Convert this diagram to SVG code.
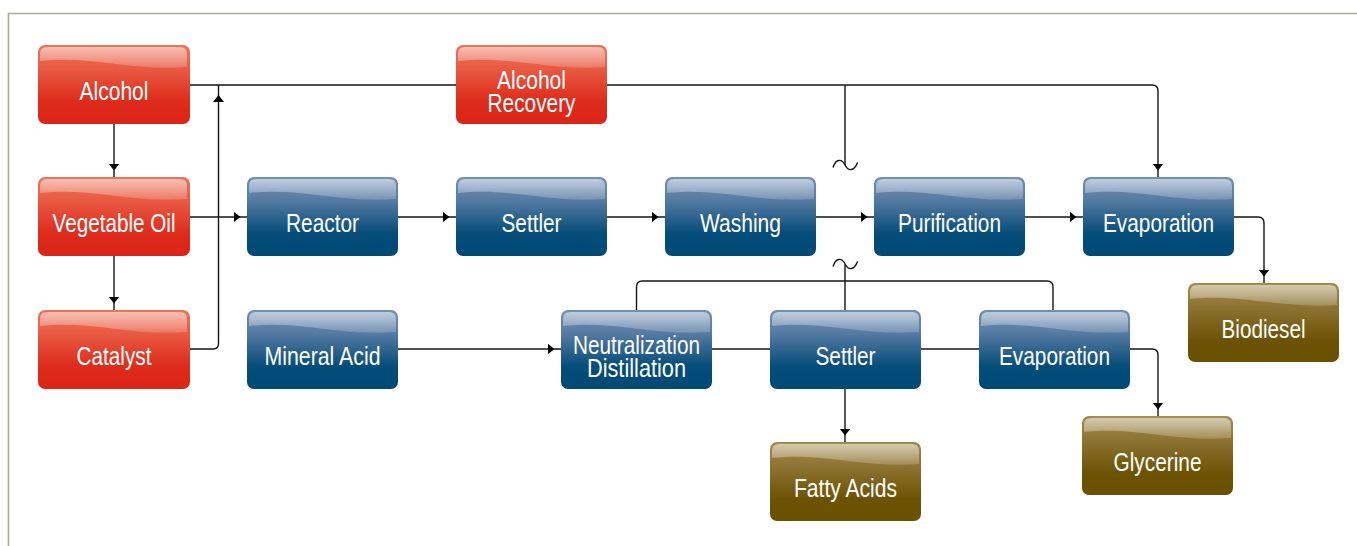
<svg xmlns="http://www.w3.org/2000/svg" width="1357" height="546" viewBox="0 0 1357 546">
  <defs>
    <style>
      .frame { fill: none; stroke: #b1a89f; stroke-width: 1.6; }
      .wire { fill: none; stroke: #141414; stroke-width: 1.4; }
      .arrow { fill: #000; }
      .red { fill: url(#gRed); }
      .blue { fill: url(#gBlue); }
      .brown { fill: url(#gBrown); }
      .label { font-family: "Liberation Sans", Arial, sans-serif; font-size: 25px; fill: #ffffff; text-anchor: middle; }
    </style>
    <linearGradient id="gRed" x1="0" y1="0" x2="0" y2="1">
      <stop offset="0" stop-color="#ef7459"/>
      <stop offset="0.3" stop-color="#e85a42"/>
      <stop offset="0.72" stop-color="#de2b1b"/>
      <stop offset="1" stop-color="#dc2517"/>
    </linearGradient>
    <linearGradient id="gBlue" x1="0" y1="0" x2="0" y2="1">
      <stop offset="0" stop-color="#7391b5"/>
      <stop offset="0.3" stop-color="#557aa2"/>
      <stop offset="0.72" stop-color="#044c79"/>
      <stop offset="1" stop-color="#014a76"/>
    </linearGradient>
    <linearGradient id="gBrown" x1="0" y1="0" x2="0" y2="1">
      <stop offset="0" stop-color="#a58c4e"/>
      <stop offset="0.3" stop-color="#8e7433"/>
      <stop offset="0.72" stop-color="#6c5304"/>
      <stop offset="1" stop-color="#6a5100"/>
    </linearGradient>
    <linearGradient id="gGloss" x1="0" y1="0" x2="0" y2="1">
      <stop offset="0" stop-color="#ffffff" stop-opacity="0.55"/>
      <stop offset="1" stop-color="#ffffff" stop-opacity="0.18"/>
    </linearGradient>
    <!-- glossy cap shared by every box (local coordinates, 151 wide) -->
    <path id="gloss" fill="url(#gGloss)" d="M2,9 Q2,2 9,2 H142 Q149,2 149,9 V22 C91,26 53,10 2,16 Z"/>
    <marker id="ah" markerUnits="userSpaceOnUse" markerWidth="20" markerHeight="12" refX="13.5" refY="5.5" orient="auto">
      <path d="M0,0 L7,5.5 L0,11 Z" fill="#000"/>
    </marker>
  </defs>

  <!-- page frame: top and left rules -->
  <path class="frame" d="M8.5,546 V13.5 H1357"/>

  <g id="connectors">
    <!-- alcohol line across the top, into the final evaporation -->
    <path class="wire" d="M190,85 H1152 Q1158,85 1158,91 V177" marker-end="url(#ah)"/>
    <!-- broken tie line (top half) -->
    <path class="wire" d="M845,85 V165"/>
    <path class="wire" d="M833,167.5 C836,158 842,159 845,165 C848,171 854,172 857.5,162.5"/>
    <!-- left column feeds -->
    <path class="wire" d="M114,124 V177" marker-end="url(#ah)"/>
    <path class="wire" d="M114,256 V310" marker-end="url(#ah)"/>
    <path class="wire" d="M190,349 H213 Q218.5,349 218.5,343.5 V85"/>
    <polygon class="arrow" points="213,102 218.5,95 224,102"/>
    <!-- main process line -->
    <path class="wire" d="M190,217 H247" marker-end="url(#ah)"/>
    <path class="wire" d="M398,217 H456" marker-end="url(#ah)"/>
    <path class="wire" d="M607,217 H665" marker-end="url(#ah)"/>
    <path class="wire" d="M816,217 H874" marker-end="url(#ah)"/>
    <path class="wire" d="M1025,217 H1083" marker-end="url(#ah)"/>
    <path class="wire" d="M1234,217 H1258 Q1264,217 1264,223 V283" marker-end="url(#ah)"/>
    <!-- glycerine treatment line -->
    <path class="wire" d="M398,349 H561" marker-end="url(#ah)"/>
    <path class="wire" d="M712,349 H770"/>
    <path class="wire" d="M920,349 H979"/>
    <path class="wire" d="M1130,349 H1152 Q1158,349 1158,355 V416" marker-end="url(#ah)"/>
    <path class="wire" d="M845,389 V442" marker-end="url(#ah)"/>
    <path class="wire" d="M636.5,310 V287 Q636.5,281 642.5,281 H1047 Q1053,281 1053,287 V310"/>
    <!-- broken tie line (bottom half) -->
    <path class="wire" d="M845,310 V264.5"/>
    <path class="wire" d="M833,266.5 C836,257 842,258 845,264 C848,270 854,271 857.5,261.5"/>
  </g>

  <g id="n-alcohol" transform="translate(38,45)">
    <rect class="red" width="152" height="79" rx="7"/>
    <use href="#gloss"/>
    <text class="label" x="76" y="55" textLength="69" lengthAdjust="spacingAndGlyphs">Alcohol</text>
  </g>
  <g id="n-vegetable-oil" transform="translate(38,177)">
    <rect class="red" width="152" height="79" rx="7"/>
    <use href="#gloss"/>
    <text class="label" x="76" y="54.5" textLength="123" lengthAdjust="spacingAndGlyphs">Vegetable Oil</text>
  </g>
  <g id="n-catalyst" transform="translate(38,310)">
    <rect class="red" width="152" height="79" rx="7"/>
    <use href="#gloss"/>
    <text class="label" x="76" y="54.5" textLength="75" lengthAdjust="spacingAndGlyphs">Catalyst</text>
  </g>
  <g id="n-alcohol-recovery" transform="translate(456,45)">
    <rect class="red" width="151" height="79" rx="7"/>
    <use href="#gloss"/>
    <text class="label" x="75.5" y="43.5" textLength="69" lengthAdjust="spacingAndGlyphs">Alcohol</text>
    <text class="label" x="75.5" y="66.5" textLength="88" lengthAdjust="spacingAndGlyphs">Recovery</text>
  </g>

  <g id="n-reactor" transform="translate(247,177)">
    <rect class="blue" width="151" height="79" rx="7"/>
    <use href="#gloss"/>
    <text class="label" x="75.5" y="54.5" textLength="73" lengthAdjust="spacingAndGlyphs">Reactor</text>
  </g>
  <g id="n-settler-1" transform="translate(456,177)">
    <rect class="blue" width="151" height="79" rx="7"/>
    <use href="#gloss"/>
    <text class="label" x="75.5" y="54.5" textLength="60" lengthAdjust="spacingAndGlyphs">Settler</text>
  </g>
  <g id="n-washing" transform="translate(665,177)">
    <rect class="blue" width="151" height="79" rx="7"/>
    <use href="#gloss"/>
    <text class="label" x="75.5" y="54.5" textLength="81" lengthAdjust="spacingAndGlyphs">Washing</text>
  </g>
  <g id="n-purification" transform="translate(874,177)">
    <rect class="blue" width="151" height="79" rx="7"/>
    <use href="#gloss"/>
    <text class="label" x="75.5" y="54.5" textLength="103" lengthAdjust="spacingAndGlyphs">Purification</text>
  </g>
  <g id="n-evaporation-1" transform="translate(1083,177)">
    <rect class="blue" width="151" height="79" rx="7"/>
    <use href="#gloss"/>
    <text class="label" x="75.5" y="54.5" textLength="111" lengthAdjust="spacingAndGlyphs">Evaporation</text>
  </g>
  <g id="n-mineral-acid" transform="translate(247,310)">
    <rect class="blue" width="151" height="79" rx="7"/>
    <use href="#gloss"/>
    <text class="label" x="75.5" y="54.5" textLength="116" lengthAdjust="spacingAndGlyphs">Mineral Acid</text>
  </g>
  <g id="n-neutralization" transform="translate(561,310)">
    <rect class="blue" width="151" height="79" rx="7"/>
    <use href="#gloss"/>
    <text class="label" x="75.5" y="43.5" textLength="127" lengthAdjust="spacingAndGlyphs">Neutralization</text>
    <text class="label" x="75.5" y="66.5" textLength="99" lengthAdjust="spacingAndGlyphs">Distillation</text>
  </g>
  <g id="n-settler-2" transform="translate(770,310)">
    <rect class="blue" width="151" height="79" rx="7"/>
    <use href="#gloss"/>
    <text class="label" x="75.5" y="54.5" textLength="60" lengthAdjust="spacingAndGlyphs">Settler</text>
  </g>
  <g id="n-evaporation-2" transform="translate(979,310)">
    <rect class="blue" width="151" height="79" rx="7"/>
    <use href="#gloss"/>
    <text class="label" x="75.5" y="54.5" textLength="111" lengthAdjust="spacingAndGlyphs">Evaporation</text>
  </g>

  <g id="n-biodiesel" transform="translate(1188,283)">
    <rect class="brown" width="151" height="79" rx="7"/>
    <use href="#gloss"/>
    <text class="label" x="75.5" y="54.5" textLength="84" lengthAdjust="spacingAndGlyphs">Biodiesel</text>
  </g>
  <g id="n-glycerine" transform="translate(1082,416)">
    <rect class="brown" width="151" height="79" rx="7"/>
    <use href="#gloss"/>
    <text class="label" x="75.5" y="54.5" textLength="88" lengthAdjust="spacingAndGlyphs">Glycerine</text>
  </g>
  <g id="n-fatty-acids" transform="translate(770,442)">
    <rect class="brown" width="151" height="79" rx="7"/>
    <use href="#gloss"/>
    <text class="label" x="75.5" y="54.5" textLength="103" lengthAdjust="spacingAndGlyphs">Fatty Acids</text>
  </g>
</svg>
